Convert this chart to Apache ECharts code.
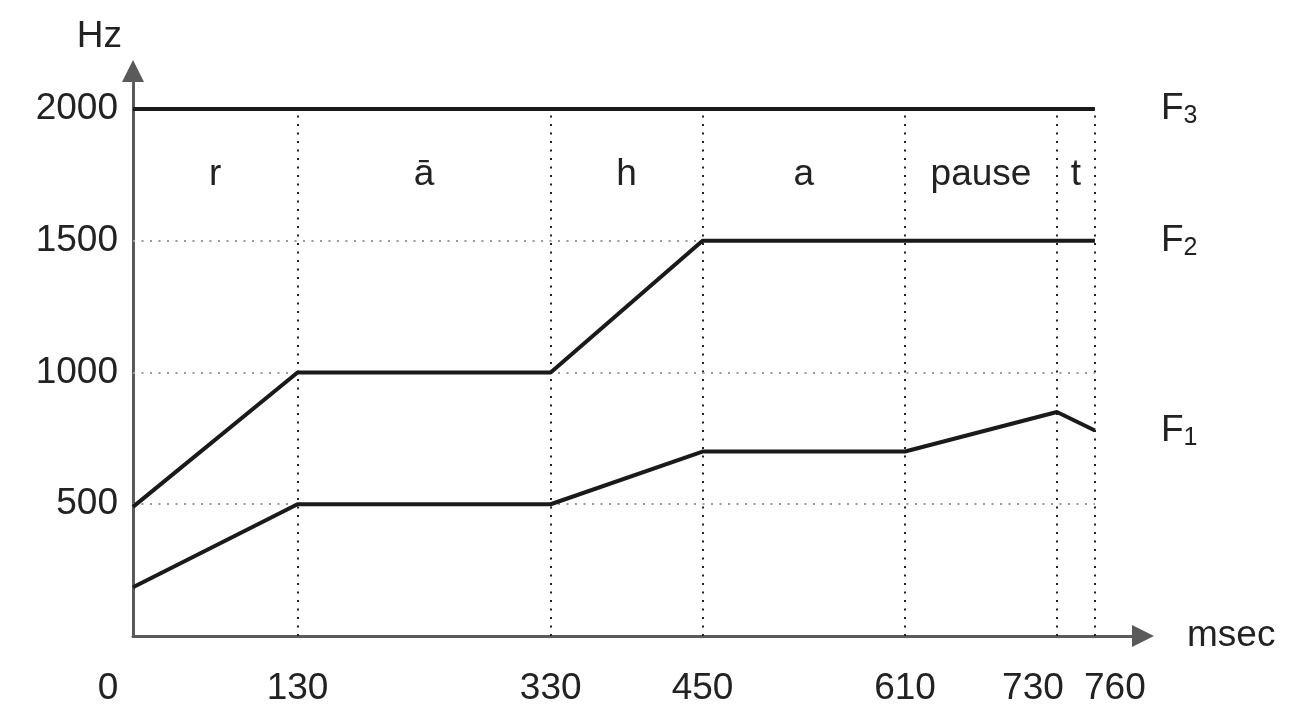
<!DOCTYPE html>
<html>
<head>
<meta charset="utf-8">
<script src="https://cdn.jsdelivr.net/npm/echarts@6/dist/echarts.min.js"></script>
<style>html,body{margin:0;padding:0;background:#fff;}#chart{width:1302px;height:717px;}</style>
</head>
<body>
<div id="chart"></div>
<script>
// x ticks (msec) and y ticks (Hz)
var xTicks = [0, 130, 330, 450, 610, 730, 760];
var yTicks = [500, 1000, 1500, 2000];
// formant tracks: [msec, Hz]
var f3 = [[0, 2000], [760, 2000]];
var f2 = [[0, 490], [130, 1000], [330, 1000], [450, 1500], [760, 1500]];
var f1 = [[0, 185], [130, 500], [330, 500], [450, 700], [610, 700], [730, 850], [760, 780]];
var formantNames = ['F{s|3}', 'F{s|2}', 'F{s|1}'];
// segment labels at segment midpoints
var segments = ['r', 'ā', 'h', 'a', 'pause', 't'];
var segmentLabelHz = 1750;

var FONT = 'Liberation Sans, Arial, sans-serif';
var TXT = '#222';
var FS = 37;

var segData = segments.map(function (s, i) {
  return { value: [(xTicks[i] + xTicks[i + 1]) / 2, segmentLabelHz], name: s };
});

var vLines = xTicks.slice(1).map(function (x) {
  return [{ coord: [x, 0] }, { coord: [x, 2000] }];
});
var hLines = yTicks.slice(0, 3).map(function (y) {
  return [{ coord: [0, y] }, { coord: [760, y] }];
});

function fLine(data, label) {
  return {
    type: 'line', data: data, symbol: 'none', z: 5,
    lineStyle: { color: '#1a1a1a', width: 4, join: 'round' },
    endLabel: {
      show: true, distance: 66, formatter: label,
      color: TXT, fontFamily: FONT, fontSize: FS, lineHeight: 40,
      rich: { s: { fontSize: 25, lineHeight: 12, verticalAlign: 'bottom', color: TXT, fontFamily: FONT } }
    }
  };
}

function xLabel(v) {
  if (v === 0) return '{l|0}';
  if (v === 730) return '{m|730}';
  if (v === 760) return '{r|760}';
  return String(v);
}
function richTok(pad) {
  return { padding: pad, fontSize: FS, fontFamily: FONT, color: TXT };
}

var chart = echarts.init(document.getElementById('chart'));
chart.setOption({
  animation: false,
  backgroundColor: '#fff',
  grid: { left: 133, right: 159, top: 71, bottom: 81, containLabel: false },
  xAxis: {
    type: 'value', min: 0, max: 798,
    name: 'msec', nameLocation: 'end', nameGap: 44,
    nameTextStyle: { color: TXT, fontFamily: FONT, fontSize: FS, align: 'left', verticalAlign: 'middle', padding: [100, 0, 0, 0] },
    axisLine: { show: true, lineStyle: { color: '#5a5a5a', width: 3 }, symbol: ['none', 'triangle'], symbolSize: [22, 22] },
    axisTick: { show: false },
    splitLine: { show: false },
    axisLabel: {
      customValues: xTicks, margin: 34, color: TXT, fontFamily: FONT, fontSize: FS,
      hideOverlap: false, showMinLabel: true, showMaxLabel: true,
      formatter: xLabel,
      rich: { l: richTok([0, 50, 0, 0]), m: richTok([0, 48, 0, 0]), r: richTok([0, 0, 0, 40]) }
    }
  },
  yAxis: {
    type: 'value', min: 0, max: 2144,
    name: 'Hz', nameLocation: 'end', nameGap: 16,
    nameTextStyle: { color: TXT, fontFamily: FONT, fontSize: FS, align: 'right', verticalAlign: 'bottom', padding: [0, 11, 0, 0] },
    axisLine: { show: true, lineStyle: { color: '#5a5a5a', width: 3 }, symbol: ['none', 'triangle'], symbolSize: [22, 22] },
    axisTick: { show: false },
    splitLine: { show: false },
    axisLabel: {
      customValues: yTicks, margin: 15, color: TXT, fontFamily: FONT, fontSize: FS,
      formatter: function (v) { return String(v); }
    }
  },
  series: [
    {
      type: 'line', data: [], silent: true, z: 1,
      markLine: {
        silent: true, symbol: 'none', label: { show: false },
        lineStyle: { color: '#222', width: 2, type: [2, 6.5] },
        data: vLines
      }
    },
    {
      type: 'line', data: [], silent: true, z: 1,
      markLine: {
        silent: true, symbol: 'none', label: { show: false },
        lineStyle: { color: '#999', width: 2, type: [2, 6.5] },
        data: hLines
      }
    },
    fLine(f3, formantNames[0]),
    fLine(f2, formantNames[1]),
    fLine(f1, formantNames[2]),
    {
      type: 'scatter', data: segData, symbolSize: 0, z: 6,
      itemStyle: { opacity: 1 },
      label: { show: true, position: 'inside', formatter: '{b}', color: TXT, opacity: 1, fontFamily: FONT, fontSize: FS }
    }
  ]
});
</script>
</body>
</html>
